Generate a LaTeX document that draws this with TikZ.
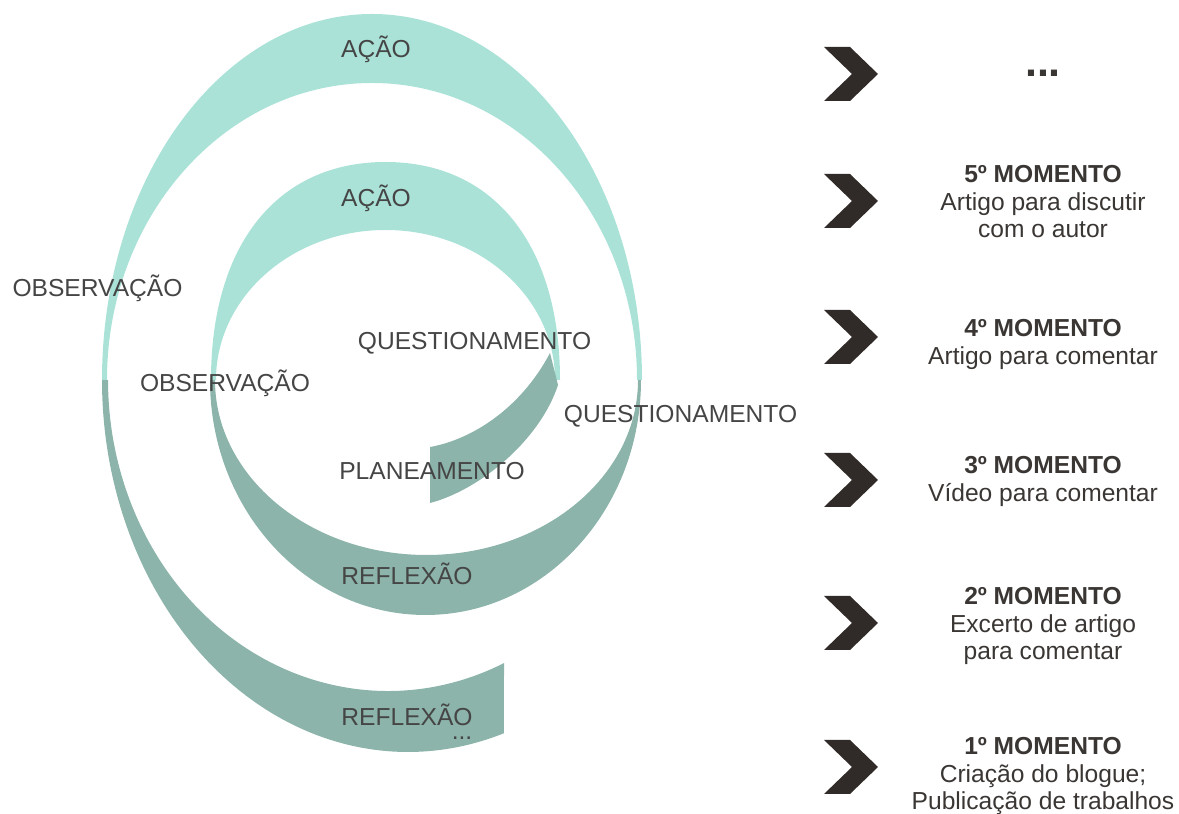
\documentclass[tikz,border=0pt]{standalone}
\usepackage{fontspec}
\setmainfont{Liberation Sans}
\definecolor{acaoteal}{HTML}{AAE2D8}
\definecolor{reflteal}{HTML}{8CB4AA}
\definecolor{labelgray}{HTML}{454545}
\definecolor{momentgray}{HTML}{3A3634}
\definecolor{chevrongray}{HTML}{302B29}

\begin{document}
\begin{tikzpicture}[x=0.5pt,y=0.5pt,
    lightband/.style={fill=acaoteal},
    darkband/.style={fill=reflteal},
    stage/.style={inner sep=0pt, anchor=base, text=labelgray, font=\fontsize{12.3}{14}\selectfont},
    moment/.style={inner sep=0pt, anchor=north, align=center, text=momentgray, font=\fontsize{12.3}{13.8}\selectfont},
    chevron/.style={fill=chevrongray}]
\useasboundingbox (0,0) rectangle (1179,814);
% Light halves of the spiral (top)
\fill[lightband] (102,434) arc[start angle=180, end angle=0, x radius=270, y radius=366]
    -- (637,434) arc[start angle=0, end angle=180, x radius=265, y radius=297] -- cycle;
\fill[lightband] (211,434) .. controls (211,569) and (277,652) .. (385.5,652)
    .. controls (494,652) and (560,569) .. (560,434)
    -- (555,434) arc[start angle=0, end angle=180, x radius=169.5, y radius=150] -- cycle;
% Dark halves of the spiral (bottom)
\fill[darkband] (210,434) arc[start angle=180, end angle=360, x radius=215.5, y radius=235]
    -- (638,434) arc[start angle=360, end angle=180, x radius=211.5, y radius=175] -- cycle;
\fill[darkband] (102,434) arc[start angle=180, end angle=288.28, x radius=306, y radius=372]
    -- (504,150.9) arc[start angle=294.47, end angle=180, x radius=280, y radius=311] -- cycle;
% Inner end of the spiral
\fill[darkband] (430,367) .. controls (470,374) and (520,404) .. (550,461)
    -- (558,429) .. controls (540,374) and (480,324) .. (430,311) -- cycle;
% Stage labels
\node[stage] (acao1) at (376,756) {AÇÃO};
\node[stage] (acao2) at (376,607) {AÇÃO};
\node[stage] (obs1) at (97.5,517) {OBSERVAÇÃO};
\node[stage] (obs2) at (225,422) {OBSERVAÇÃO};
\node[stage] (quest2) at (474.5,464) {QUESTIONAMENTO};
\node[stage] (quest1) at (680.5,391) {QUESTIONAMENTO};
\node[stage] (plan) at (432,334) {PLANEAMENTO};
\node[stage] (refl2) at (407,229) {REFLEXÃO};
\node[stage] (refl1) at (407,88) {REFLEXÃO};
\node[stage] (dots) at (462,74) {...};
% Chevrons
\foreach \cy in {740,613,477,334,191,47}
    \fill[chevron] (824,\cy) ++(0,27) -- ++(26,0) -- ++(28,-27) -- ++(-28,-27)
        -- ++(-26,0) -- ++(28,27) -- cycle;
% Moments
\node[stage, text=momentgray, font=\fontsize{21.5}{22}\selectfont\bfseries] (mnext) at (1043,737) {...};
\node[moment] (m5) at (1043,649) {\textbf{5º MOMENTO}\\Artigo para discutir\\com o autor};
\node[moment] (m4) at (1043,495) {\textbf{4º MOMENTO}\\Artigo para comentar};
\node[moment] (m3) at (1043,358) {\textbf{3º MOMENTO}\\Vídeo para comentar};
\node[moment] (m2) at (1043,227) {\textbf{2º MOMENTO}\\Excerto de artigo\\para comentar};
\node[moment] (m1) at (1043,77) {\textbf{1º MOMENTO}\\Criação do blogue;\\Publicação de trabalhos};
\end{tikzpicture}
\end{document}
